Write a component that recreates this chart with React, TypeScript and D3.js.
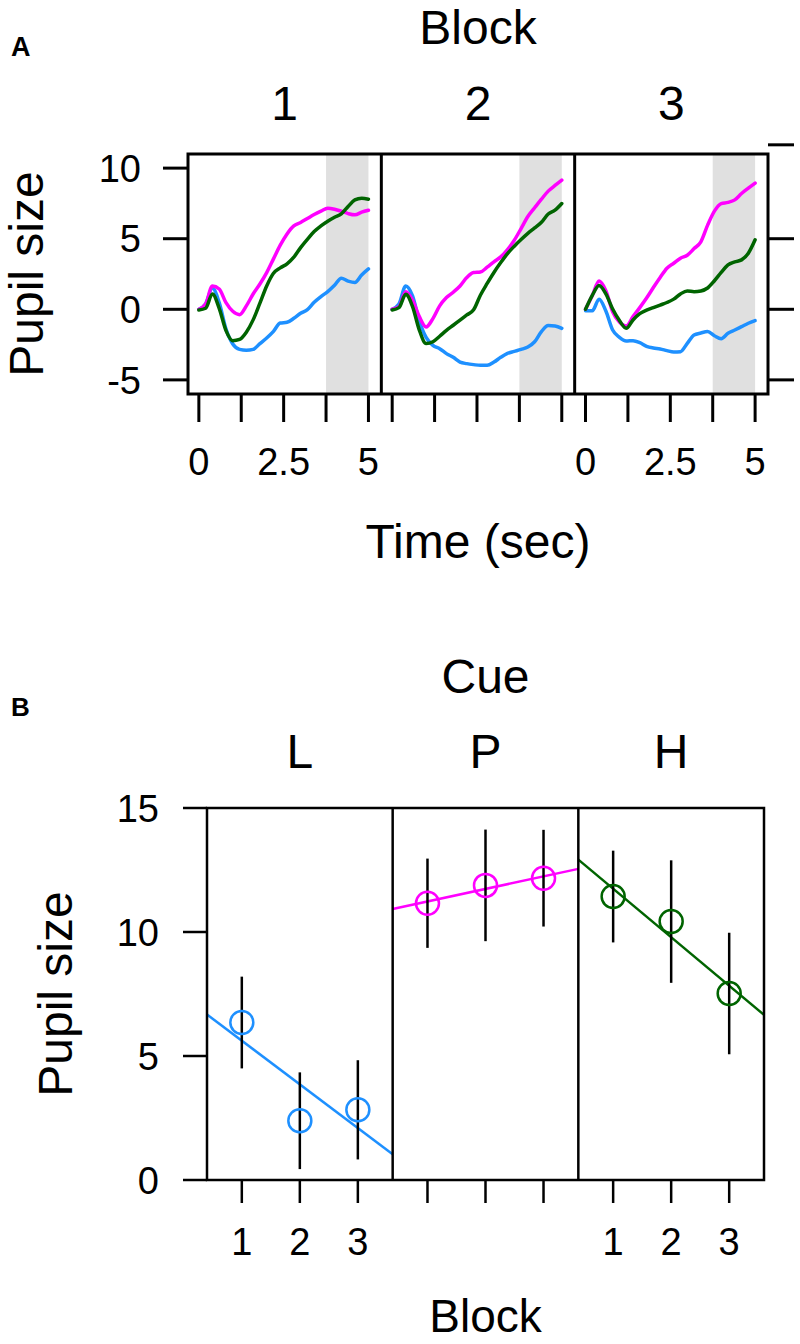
import * as d3 from "d3";

const FONT = '"Liberation Sans", Arial, Helvetica, sans-serif';

// ---- panel A: pupil traces, one row of three blocks ----
const blocks = ["1", "2", "3"];
const timeSec = [0, 0.2, 0.4, 0.6, 0.8, 1, 1.2, 1.4, 1.6, 1.8, 2, 2.2, 2.4, 2.6, 2.8, 3, 3.2, 3.4, 3.6, 3.8, 4, 4.2, 4.4, 4.6, 4.8, 5];

const traceL1 = [0, 0.38, 1.5, 0.47, -1.4, -2.46, -2.84, -2.9, -2.84, -2.43, -2.03, -1.56, -0.97, -0.92, -0.64, -0.28, -0.02, 0.5, 0.9, 1.25, 1.7, 2.2, 2.0, 1.9, 2.43, 2.86];
const traceP1 = [0, 0.38, 1.65, 1.44, 0.47, -0.14, -0.38, 0.24, 1.08, 1.79, 2.6, 3.57, 4.54, 5.34, 5.91, 6.15, 6.43, 6.71, 6.95, 7.16, 7.09, 6.95, 6.78, 6.69, 6.88, 7.02];
const traceH1 = [-0.05, 0.07, 1.09, 0.07, -1.51, -2.22, -2.13, -1.62, -0.75, 0.43, 1.65, 2.55, 2.93, 3.22, 3.69, 4.37, 4.96, 5.51, 5.91, 6.24, 6.52, 6.76, 7.28, 7.75, 7.87, 7.8];

const traceL2 = [0, 0.38, 1.65, 0.95, -0.83, -1.99, -2.55, -2.79, -3.14, -3.4, -3.74, -3.85, -3.92, -3.97, -3.97, -3.74, -3.4, -3.12, -2.98, -2.84, -2.67, -2.3, -1.58, -1.15, -1.18, -1.35];
const traceP2 = [0, 0.19, 1.25, 0.66, -0.52, -1.25, -0.66, 0.24, 0.83, 1.21, 1.65, 2.25, 2.6, 2.64, 2.98, 3.36, 3.71, 4.23, 4.89, 5.72, 6.57, 7.19, 7.8, 8.37, 8.77, 9.15];
const traceH2 = [-0.05, 0.12, 1.06, 0.19, -1.47, -2.43, -2.3, -1.91, -1.49, -1.13, -0.76, -0.4, -0.04, 1.0, 1.83, 2.61, 3.31, 3.95, 4.47, 4.94, 5.38, 5.76, 6.16, 6.75, 7.02, 7.49];

const traceL3 = [-0.1, -0.1, 0.71, -0.12, -1.47, -1.99, -2.25, -2.22, -2.36, -2.62, -2.74, -2.81, -2.93, -3.03, -3.0, -2.41, -1.82, -1.68, -1.58, -1.87, -2.08, -1.7, -1.47, -1.23, -0.99, -0.8];
const traceP3 = [0, 0.97, 2.0, 1.32, -0.17, -0.9, -1.18, -0.52, 0.12, 0.8, 1.54, 2.25, 2.91, 3.26, 3.62, 3.83, 4.3, 4.78, 5.96, 6.95, 7.49, 7.57, 7.75, 8.2, 8.58, 8.94];
const traceH3 = [0, 0.99, 1.68, 1.09, 0.02, -0.8, -1.35, -0.76, -0.31, -0.06, 0.12, 0.3, 0.48, 0.72, 1.09, 1.3, 1.25, 1.3, 1.51, 2.02, 2.61, 3.14, 3.36, 3.5, 3.97, 4.92];

const tracesByBlock = [
  [traceL1, traceP1, traceH1],
  [traceL2, traceP2, traceH2],
  [traceL3, traceP3, traceH3],
];

const windowSec = [3.75, 5]; // shaded analysis window
const yTicksA = [-5, 0, 5, 10];
const rightTicksA = [-5, 0, 5, 11.65];
const xTicksA = [0, 1.25, 2.5, 3.75, 5];
const xLabelsA = ["0", "2.5", "5"];
const xLabelValsA = [0, 2.5, 5];

// ---- panel B: mean pupil size per cue and block ----
const cues = ["L", "P", "H"];
const blockNums = [1, 2, 3];
const meanL = [6.35, 2.39, 2.83];
const meanP = [11.16, 11.88, 12.17];
const meanH = [11.43, 10.42, 7.52];
const errL = [1.85, 1.95, 2.0];
const errP = [1.8, 2.25, 1.95];
const errH = [1.85, 2.47, 2.45];
const yTicksB = [0, 5, 10, 15];

const COLORS = ["#1E90FF", "#FF00FF", "#006400"];

const A = { left: 188, right: 768, top: 154, bottom: 394 };
const B = { left: 207, right: 764, top: 808, bottom: 1180 };

const PanelA = () => {
  const panelW = (A.right - A.left) / 3;
  const yScale = d3.scaleLinear().domain([-6, 11]).range([A.bottom, A.top]);
  const xScales = blocks.map((_, i) =>
    d3.scaleLinear().domain([-0.32, 5.38]).range([A.left + i * panelW, A.left + (i + 1) * panelW])
  );

  return (
    <g>
      {/* shaded window */}
      {xScales.map((x, i) => (
        <rect
          key={"win" + i}
          x={x(windowSec[0])}
          y={A.top}
          width={x(windowSec[1]) - x(windowSec[0])}
          height={A.bottom - A.top}
          fill="#E0E0E0"
        />
      ))}

      {/* traces */}
      {tracesByBlock.map((traces, i) => {
        const line = d3
          .line<number>()
          .x((_, j) => xScales[i](timeSec[j]))
          .y((d) => yScale(d))
          .curve(d3.curveMonotoneX);
        return traces.map((tr, k) => (
          <path
            key={`tr${i}-${k}`}
            d={line(tr) || ""}
            fill="none"
            stroke={COLORS[k]}
            strokeWidth={3.5}
            strokeLinejoin="round"
            strokeLinecap="round"
          />
        ));
      })}

      {/* frame */}
      <rect x={A.left} y={A.top} width={A.right - A.left} height={A.bottom - A.top} fill="none" stroke="#000" strokeWidth={3} />
      {[1, 2].map((i) => (
        <line key={"div" + i} x1={A.left + i * panelW} x2={A.left + i * panelW} y1={A.top} y2={A.bottom} stroke="#000" strokeWidth={3} />
      ))}

      {/* left axis */}
      {yTicksA.map((t) => (
        <g key={"yl" + t}>
          <line x1={A.left - 25} x2={A.left} y1={yScale(t)} y2={yScale(t)} stroke="#000" strokeWidth={3} />
          <text x={A.left - 47} y={yScale(t)} dy="0.36em" textAnchor="end" fontSize={38} fontFamily={FONT}>
            {t}
          </text>
        </g>
      ))}
      {/* right axis ticks */}
      {rightTicksA.map((t) => (
        <line key={"yr" + t} x1={A.right} x2={A.right + 26} y1={yScale(t)} y2={yScale(t)} stroke="#000" strokeWidth={3} />
      ))}

      {/* bottom ticks */}
      {xScales.map((x, i) => (
        <g key={"xb" + i}>
          {xTicksA.map((t) => (
            <line key={t} x1={x(t)} x2={x(t)} y1={A.bottom} y2={A.bottom + 28} stroke="#000" strokeWidth={3} />
          ))}
          {i !== 1 &&
            xLabelValsA.map((t, j) => (
              <text key={"l" + t} x={x(t)} y={475} textAnchor="middle" fontSize={38} fontFamily={FONT}>
                {xLabelsA[j]}
              </text>
            ))}
        </g>
      ))}

      {/* strip labels */}
      {xScales.map((x, i) => (
        <text key={"strip" + i} x={(x.range()[0] + x.range()[1]) / 2} y={120} textAnchor="middle" fontSize={48} fontFamily={FONT}>
          {blocks[i]}
        </text>
      ))}
      <text x={(A.left + A.right) / 2} y={44} textAnchor="middle" fontSize={48} fontFamily={FONT}>
        Block
      </text>
      <text x={(A.left + A.right) / 2} y={558} textAnchor="middle" fontSize={48} fontFamily={FONT}>
        Time (sec)
      </text>
      <text transform={`translate(43, ${(A.top + A.bottom) / 2}) rotate(-90)`} textAnchor="middle" fontSize={48} fontFamily={FONT}>
        Pupil size
      </text>
      <text x={11} y={56} fontSize={27} fontWeight="bold" fontFamily={FONT}>
        A
      </text>
    </g>
  );
};

const PanelB = () => {
  const panelW = (B.right - B.left) / 3;
  const yScale = d3.scaleLinear().domain([0, 15]).range([B.bottom, B.top]);
  const xScales = cues.map((_, i) =>
    d3.scaleLinear().domain([0.4, 3.6]).range([B.left + i * panelW, B.left + (i + 1) * panelW])
  );
  const means = [meanL, meanP, meanH];
  const errs = [errL, errP, errH];

  return (
    <g>
      {means.map((m, i) => {
        const x = xScales[i];
        // least-squares line through the three block means
        const mx = d3.mean(blockNums) as number;
        const my = d3.mean(m) as number;
        const slope =
          d3.sum(blockNums, (b, j) => (b - mx) * (m[j] - my)) / d3.sum(blockNums, (b) => (b - mx) * (b - mx));
        const x0 = x.domain()[0];
        const x1 = x.domain()[1];
        return (
          <g key={"cue" + i}>
            <line
              x1={x(x0)}
              x2={x(x1)}
              y1={yScale(my + slope * (x0 - mx))}
              y2={yScale(my + slope * (x1 - mx))}
              stroke={COLORS[i]}
              strokeWidth={2.5}
            />
            {m.map((v, j) => (
              <g key={j}>
                <line
                  x1={x(blockNums[j])}
                  x2={x(blockNums[j])}
                  y1={yScale(v - errs[i][j])}
                  y2={yScale(v + errs[i][j])}
                  stroke="#000"
                  strokeWidth={2.5}
                />
                <circle cx={x(blockNums[j])} cy={yScale(v)} r={11.5} fill="none" stroke={COLORS[i]} strokeWidth={2.5} />
              </g>
            ))}
          </g>
        );
      })}

      {/* frame */}
      <rect x={B.left} y={B.top} width={B.right - B.left} height={B.bottom - B.top} fill="none" stroke="#000" strokeWidth={2.5} />
      {[1, 2].map((i) => (
        <line key={"div" + i} x1={B.left + i * panelW} x2={B.left + i * panelW} y1={B.top} y2={B.bottom} stroke="#000" strokeWidth={2.5} />
      ))}

      {yTicksB.map((t) => (
        <g key={"yb" + t}>
          <line x1={B.left - 24} x2={B.left} y1={yScale(t)} y2={yScale(t)} stroke="#000" strokeWidth={2.5} />
          <text x={B.left - 48} y={yScale(t)} dy="0.36em" textAnchor="end" fontSize={38} fontFamily={FONT}>
            {t}
          </text>
        </g>
      ))}

      {xScales.map((x, i) => (
        <g key={"xb" + i}>
          {blockNums.map((b) => (
            <line key={b} x1={x(b)} x2={x(b)} y1={B.bottom} y2={B.bottom + 23} stroke="#000" strokeWidth={2.5} />
          ))}
          {i !== 1 &&
            blockNums.map((b) => (
              <text key={"l" + b} x={x(b)} y={1255} textAnchor="middle" fontSize={38} fontFamily={FONT}>
                {b}
              </text>
            ))}
          <text x={(x.range()[0] + x.range()[1]) / 2} y={768} textAnchor="middle" fontSize={48} fontFamily={FONT}>
            {cues[i]}
          </text>
        </g>
      ))}

      <text x={(B.left + B.right) / 2} y={693} textAnchor="middle" fontSize={48} fontFamily={FONT}>
        Cue
      </text>
      <text x={(B.left + B.right) / 2} y={1332} textAnchor="middle" fontSize={46} fontFamily={FONT}>
        Block
      </text>
      <text transform={`translate(72, ${(B.top + B.bottom) / 2}) rotate(-90)`} textAnchor="middle" fontSize={48} fontFamily={FONT}>
        Pupil size
      </text>
      <text x={11} y={716} fontSize={26} fontWeight="bold" fontFamily={FONT}>
        B
      </text>
    </g>
  );
};

export default function App() {
  return (
    <div style={{ position: "absolute", left: 0, top: 0 }}>
      <svg width={800} height={1344} style={{ display: "block", background: "#fff" }}>
        <PanelA />
        <PanelB />
      </svg>
    </div>
  );
}
